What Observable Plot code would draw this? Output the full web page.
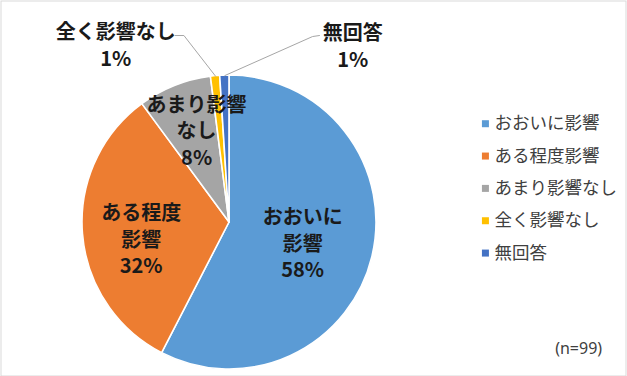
<!DOCTYPE html>
<html><head><meta charset="utf-8">
<script src="https://cdn.jsdelivr.net/npm/d3@7"></script>
<script src="https://cdn.jsdelivr.net/npm/@observablehq/plot@0.6"></script>
<style>html,body{margin:0;padding:0;background:#fff}</style>
</head><body><div id="chart"></div>
<script>
// ---- data ----
const categories = ["おおいに影響", "ある程度影響", "あまり影響なし", "全く影響なし", "無回答"];
const counts = [57, 32, 8, 1, 1];
const percentLabels = ["58%", "32%", "8%", "1%", "1%"];
const sliceLabelLines = [["おおいに", "影響"], ["ある程度", "影響"], ["あまり影響", "なし"], ["全く影響なし"], ["無回答"]];
const colors = ["#5B9BD5", "#ED7D31", "#A5A5A5", "#FFC000", "#4472C4"];
const note = "(n=99)";

// ---- layout (not data) ----
const CX = 229, CY = 222, R = 147;
const labelPolar = [[0.515, 105], [0.61, 260], [0.67, 340.5], [1.44, 327.5], [1.47, 34.8]]; // [radius, degrees]
const leaderElbow = {3: [[-0.31, 1.272], [-0.37, 1.272]], 4: [[0.565, 1.265], [0.612, 1.272]]};
const legendX = 1.741, legendTop = 0.672, legendStep = 0.22;

const arcs = d3.pie().sort(null)(counts);
const mid = a => (a.startAngle + a.endAngle) / 2;
const rad = d => d * Math.PI / 180;

const labels = categories.map((c, i) => {
  const [r, deg] = labelPolar[i];
  return {x: r * Math.sin(rad(deg)), y: r * Math.cos(rad(deg)),
          text: [...sliceLabelLines[i], percentLabels[i]].join("\n")};
});

const leaders = [];
for (const k of Object.keys(leaderElbow)) {
  const i = +k, t = mid(arcs[i]);
  leaders.push({i, x: Math.sin(t), y: Math.cos(t)});
  for (const [x, y] of leaderElbow[k]) leaders.push({i, x, y});
}

const legend = categories.map((c, i) => ({c, i, x: legendX, y: legendTop - i * legendStep}));

function pieMark(index, scales) {
  const x = scales.x, y = scales.y;
  const cx = x(0), cy = y(0), r = x(1) - x(0);
  const arc = d3.arc().innerRadius(0).outerRadius(r);
  const g = d3.create("svg:g").attr("transform", `translate(${cx},${cy})`);
  g.selectAll("path").data(arcs).join("path")
    .attr("d", arc)
    .attr("fill", (d, i) => colors[i])
    .attr("stroke", "#fff").attr("stroke-width", 1.6).attr("stroke-linejoin", "round");
  return g.node();
}

const font = "'Noto Sans CJK JP', 'Noto Sans', sans-serif";

const chart = Plot.plot({
  width: 627, height: 376,
  margin: 0,
  style: {background: "#fff", fontFamily: font},
  x: {domain: [-1, 1], range: [CX - R, CX + R], axis: null},
  y: {domain: [-1, 1], range: [CY + R, CY - R], axis: null},
  marks: [
    Plot.frame({stroke: "#D9D9D9", insetLeft: 0.5, insetTop: 0.5, insetRight: 1.5, insetBottom: 0.5}),
    pieMark,
    Plot.line(leaders, {x: "x", y: "y", z: "i", stroke: "#A6A6A6", strokeWidth: 1}),
    Plot.text(labels, {x: "x", y: "y", text: "text", fontSize: 20, fontWeight: "bold",
      lineHeight: 1.32, fill: "#1a1a1a", fontFamily: font}),
    Plot.dot(legend, {x: "x", y: "y", symbol: "square", r: 3.95, fill: (d) => colors[d.i], stroke: null}),
    Plot.text(legend, {x: "x", y: "y", text: "c", dx: 9, textAnchor: "start", fontSize: 17.5,
      fill: "#404040", fontFamily: font}),
    Plot.text([note], {x: () => 2.375, y: () => -0.86, text: d => d, fontSize: 16,
      fill: "#404040", fontFamily: "'Noto Sans', sans-serif"})
  ]
});
document.getElementById("chart").append(chart);
</script>
</body></html>
